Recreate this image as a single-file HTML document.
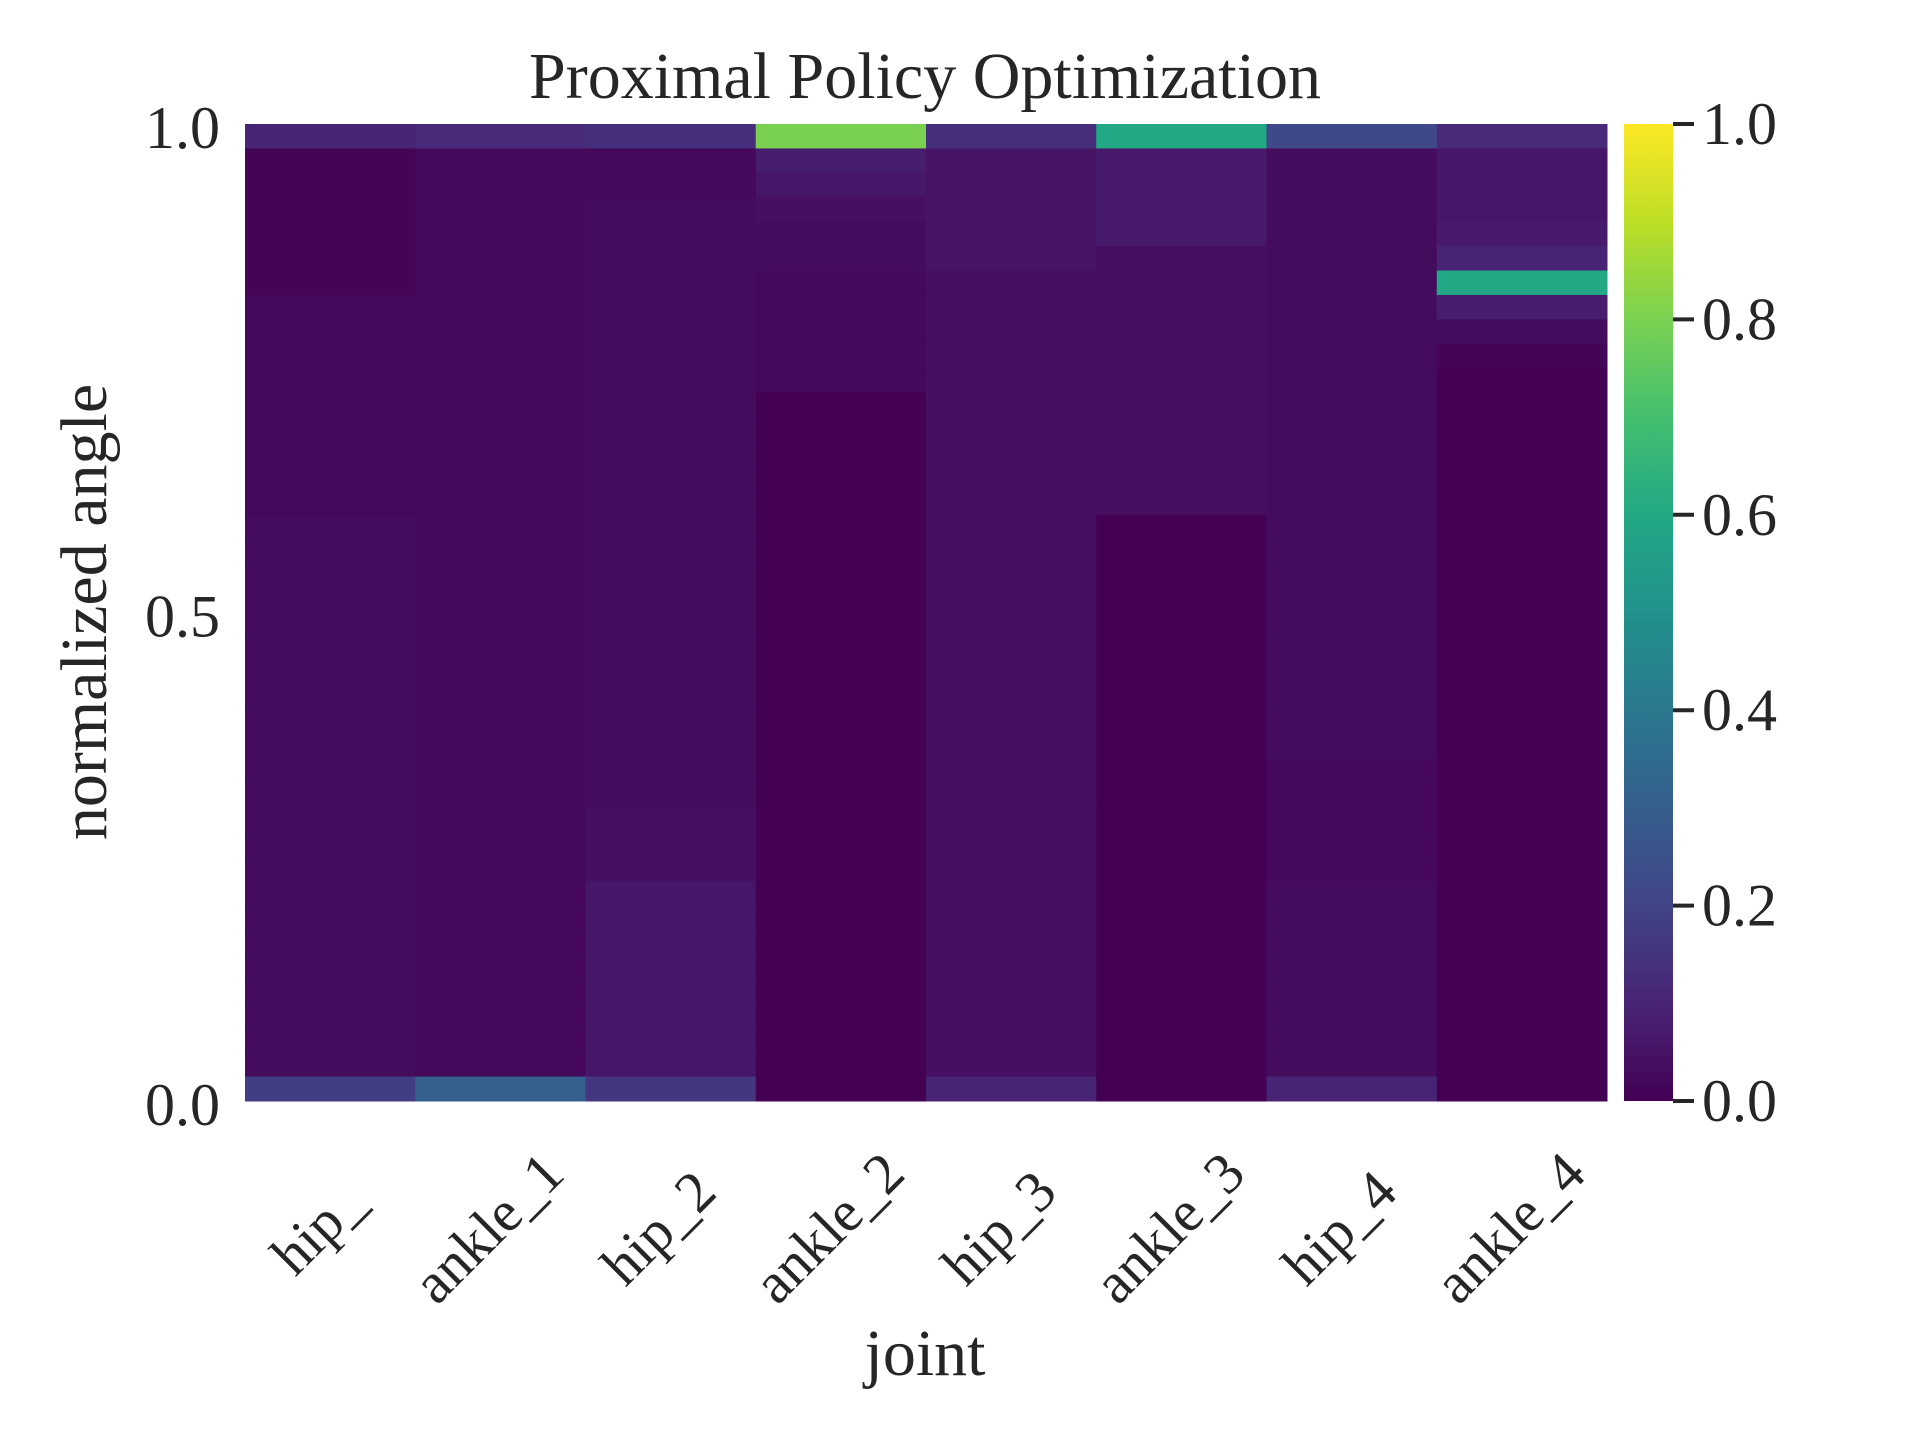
<!DOCTYPE html>
<html><head><meta charset="utf-8"><style>
html,body{margin:0;padding:0;background:#fff;}
svg{display:block;font-family:"Liberation Serif","DejaVu Serif",serif;fill:#262626;}
</style></head><body>
<svg id="chart" width="1920" height="1440" viewBox="0 0 1920 1440" xmlns="http://www.w3.org/2000/svg">
<defs>
<linearGradient id="vir" x1="0" y1="1" x2="0" y2="0">
<stop offset="0" stop-color="#440154"/><stop offset="0.1" stop-color="#482475"/><stop offset="0.2" stop-color="#414487"/><stop offset="0.3" stop-color="#355f8d"/><stop offset="0.4" stop-color="#2a788e"/><stop offset="0.5" stop-color="#21918c"/><stop offset="0.6" stop-color="#22a884"/><stop offset="0.7" stop-color="#44bf70"/><stop offset="0.8" stop-color="#7ad151"/><stop offset="0.9" stop-color="#bddf26"/><stop offset="1" stop-color="#fde725"/>
</linearGradient>
</defs>
<text x="925" y="98" font-size="66" text-anchor="middle">Proximal Policy Optimization</text>
<g id="cells"></g>
<g id="xlabels"></g>
<g id="ylabels"></g>
<text x="925" y="1375" font-size="66" text-anchor="middle">joint</text>
<text transform="translate(106,612) rotate(-90)" font-size="66" text-anchor="middle">normalized angle</text>
<rect x="1624" y="124" width="49" height="977" fill="url(#vir)"/>
<g id="cbticks"></g>
</svg>
<script>
const joints = ["hip_","ankle_1","hip_2","ankle_2","hip_3","ankle_3","hip_4","ankle_4"];
const yTicks = ["1.0","0.5","0.0"];
const yTickVals = [1.0,0.5,0.0];
const cbTicks = ["0.0","0.2","0.4","0.6","0.8","1.0"];
const cbTickVals = [0,0.2,0.4,0.6,0.8,1.0];
// each column: 40 rows, top (1.0) to bottom (0.0)
const hip1   = [0.10,0.01,0.01,0.01,0.01,0.01,0.01,0.02,0.02,0.02,0.02,0.02,0.02,0.02,0.02,0.02,0.03,0.03,0.03,0.03,0.03,0.03,0.03,0.03,0.03,0.03,0.03,0.03,0.03,0.03,0.03,0.03,0.03,0.03,0.03,0.03,0.03,0.03,0.03,0.18];
const ankle1 = [0.12,0.02,0.02,0.02,0.02,0.02,0.02,0.02,0.02,0.02,0.02,0.02,0.02,0.02,0.02,0.02,0.02,0.02,0.02,0.02,0.02,0.02,0.02,0.02,0.02,0.02,0.02,0.02,0.02,0.02,0.02,0.02,0.02,0.02,0.02,0.02,0.02,0.02,0.02,0.30];
const hip2   = [0.13,0.02,0.02,0.03,0.03,0.03,0.03,0.03,0.03,0.03,0.03,0.03,0.03,0.03,0.03,0.03,0.03,0.03,0.03,0.03,0.03,0.03,0.03,0.03,0.03,0.03,0.03,0.03,0.04,0.04,0.04,0.06,0.06,0.06,0.06,0.06,0.06,0.06,0.06,0.16];
const ankle2 = [0.80,0.08,0.06,0.04,0.03,0.03,0.02,0.02,0.02,0.02,0.02,0.00,0.00,0.00,0.00,0.00,0.00,0.00,0.00,0.00,0.00,0.00,0.00,0.00,0.00,0.00,0.00,0.00,0.00,0.00,0.00,0.00,0.00,0.00,0.00,0.00,0.00,0.00,0.00,0.00];
const hip3   = [0.13,0.05,0.05,0.05,0.05,0.05,0.04,0.04,0.04,0.04,0.04,0.04,0.04,0.04,0.04,0.04,0.04,0.04,0.04,0.04,0.04,0.04,0.04,0.04,0.04,0.04,0.04,0.04,0.04,0.04,0.04,0.04,0.04,0.04,0.04,0.04,0.04,0.04,0.04,0.10];
const ankle3 = [0.60,0.07,0.07,0.07,0.07,0.04,0.04,0.04,0.04,0.04,0.04,0.04,0.04,0.04,0.04,0.04,0.00,0.00,0.00,0.00,0.00,0.00,0.00,0.00,0.00,0.00,0.00,0.00,0.00,0.00,0.00,0.00,0.00,0.00,0.00,0.00,0.00,0.00,0.00,0.00];
const hip4   = [0.22,0.03,0.03,0.03,0.03,0.03,0.03,0.03,0.03,0.03,0.03,0.03,0.03,0.03,0.03,0.03,0.03,0.03,0.03,0.03,0.03,0.03,0.03,0.03,0.03,0.03,0.02,0.02,0.02,0.02,0.02,0.03,0.03,0.03,0.03,0.03,0.03,0.03,0.03,0.10];
const ankle4 = [0.12,0.06,0.06,0.06,0.07,0.10,0.60,0.08,0.03,0.01,0.00,0.00,0.00,0.00,0.00,0.00,0.00,0.00,0.00,0.00,0.00,0.00,0.00,0.00,0.00,0.00,0.00,0.00,0.00,0.00,0.00,0.00,0.00,0.00,0.00,0.00,0.00,0.00,0.00,0.00];
const columns = [hip1,ankle1,hip2,ankle2,hip3,ankle3,hip4,ankle4];

const NS="http://www.w3.org/2000/svg";
const X0=245,X1=1607,Y0=124,Y1=1101;
const vir=[[68,1,84],[72,36,117],[65,68,135],[53,95,141],[42,120,142],[33,145,140],[34,168,132],[68,191,112],[122,209,81],[189,223,38],[253,231,37]];
function color(v){v=Math.max(0,Math.min(1,v));const t=v*10,i=Math.min(9,Math.floor(t)),f=t-i;const a=vir[i],b=vir[i+1];return `rgb(${a.map((c,k)=>Math.round(c+(b[k]-c)*f)).join(',')})`;}
const colX=i=>X0+(X1-X0)*i/joints.length;
const cellW=(X1-X0)/joints.length;
const rowY=(j,n)=>Y0+(Y1-Y0)*j/n;
const valY=v=>Y1-(Y1-Y0)*v;
const cbY=v=>Y1-(Y1-Y0)*v;

const cells=document.getElementById('cells');
columns.forEach((col,i)=>{
  const n=col.length;
  col.forEach((v,j)=>{
    const r=document.createElementNS(NS,'rect');
    
    
    r.setAttribute('x',colX(i));
    r.setAttribute('y',rowY(j,n));
    r.setAttribute('width',cellW+0.5);
    r.setAttribute('height',(Y1-Y0)/n+0.5);
    r.setAttribute('fill',color(v));
    cells.appendChild(r);
  });
});
const xl=document.getElementById('xlabels');
joints.forEach((name,i)=>{
  const cx=colX(i)+cellW/2-8, cy=1232;
  const t=document.createElementNS(NS,'text');
  
  
  t.setAttribute('transform',`translate(${cx},${cy}) rotate(-45)`);
  t.setAttribute('text-anchor','middle');
  t.setAttribute('dominant-baseline','middle');
  t.setAttribute('font-size','58');
  t.textContent=name;
  xl.appendChild(t);
});
const yl=document.getElementById('ylabels');
yTicks.forEach((lab,i)=>{
  const t=document.createElementNS(NS,'text');
  
  
  t.setAttribute('x',220);
  t.setAttribute('y',valY(yTickVals[i])+24);
  t.setAttribute('text-anchor','end');
  t.setAttribute('font-size','60');
  t.textContent=lab;
  yl.appendChild(t);
});
const cb=document.getElementById('cbticks');
cbTicks.forEach((lab,i)=>{
  const y=cbY(cbTickVals[i]);
  const l=document.createElementNS(NS,'line');
  
  
  l.setAttribute('x1',1673);l.setAttribute('x2',1694);
  l.setAttribute('y1',y);l.setAttribute('y2',y);
  l.setAttribute('stroke','#262626');l.setAttribute('stroke-width','4');
  cb.appendChild(l);
  const t=document.createElementNS(NS,'text');
  
  
  t.setAttribute('x',1702);
  t.setAttribute('y',y+20);
  t.setAttribute('font-size','60');
  t.textContent=lab;
  cb.appendChild(t);
});
</script>
</body></html>
